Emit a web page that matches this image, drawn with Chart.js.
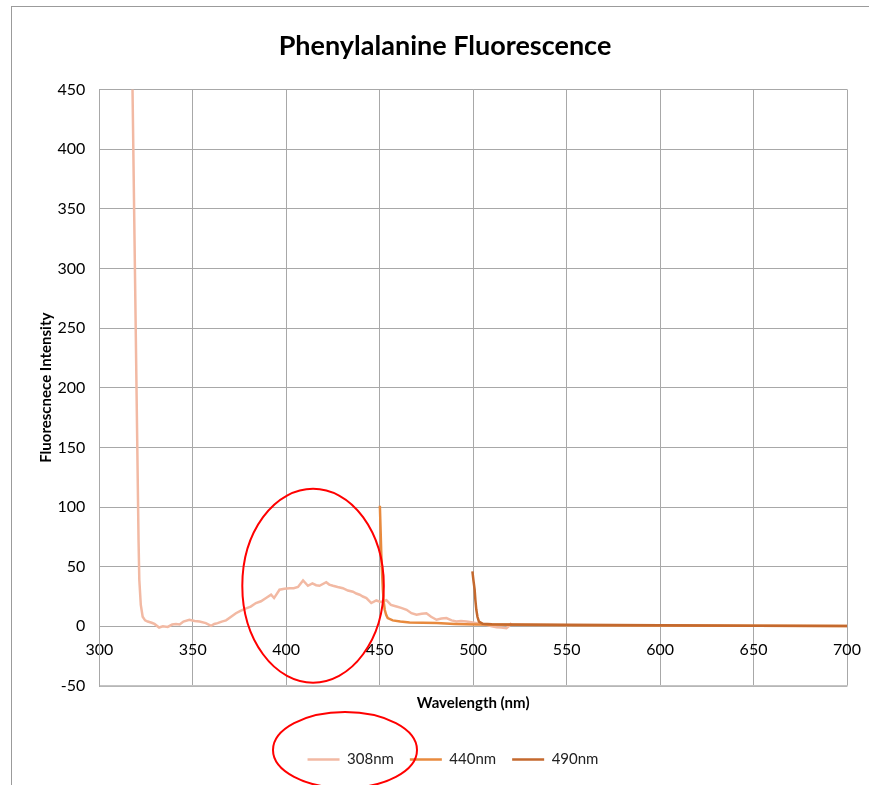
<!doctype html>
<html lang="en">
  <head>
    <meta charset="UTF-8" />
    <title>Phenylalanine Fluorescence</title>
    <script src="https://cdn.jsdelivr.net/npm/chart.js"></script>
    <style>
      body {
        margin: 0;
        background: #fff;
        overflow: hidden;
      }
      .wrap {
        position: relative;
        width: 869px;
        height: 785px;
      }
      .frame {
        position: absolute;
        left: 11px;
        top: 6px;
        width: 900px;
        height: 820px;
        border-left: 1.5px solid #9b9b9b;
        border-top: 1.5px solid #9b9b9b;
      }
      canvas {
        position: absolute;
        left: 0;
        top: 0;
      }
    </style>
  </head>
  <body>
    <div class="wrap">
      <div class="frame"></div>
      <canvas id="chart" width="869" height="785"></canvas>
    </div>

    <script>
      // emission spectra: [wavelength nm, intensity]
      const ex308 = [
        [317.6, 470], [321.0, 72], [321.4, 39], [322.2, 18], [323.2, 8],
        [324.5, 5], [325.9, 4], [328, 3], [329.5, 2], [332, -1], [334, 0],
        [336.6, -0.5], [339, 1.5], [341, 2], [343, 1.5], [345, 4], [348.2, 5.5],
        [351, 4.5], [353.6, 4], [357, 2.7], [359.8, 0.5], [361.5, 2], [363.3, 2.7],
        [365.5, 4], [367.8, 5], [370.5, 8], [373.1, 11], [375.5, 13], [378.5, 15],
        [381, 16.5], [383.8, 19.5], [386.5, 21], [389.2, 23.7], [391.9, 26.5],
        [393.5, 23.7], [396.4, 30.7], [399, 31.5], [401.8, 32], [404, 32],
        [406.3, 33], [409, 38.5], [411.6, 34], [414, 36], [416, 34.5], [417.8, 34],
        [421.4, 37], [423, 35], [425, 34], [427.5, 33], [430.3, 32], [433, 30],
        [435.7, 29], [437.5, 27.5], [439.3, 26.5], [441, 25], [442.9, 23.7],
        [445.5, 19.5], [448.2, 21.7], [450.5, 20.5], [453.6, 22], [456, 18],
        [459, 16.6], [461.5, 15.5], [464.4, 13.9], [467, 11], [469.7, 9.7],
        [472.5, 10.5], [475, 11], [477.5, 8], [480.4, 5.5], [483, 6.5],
        [485.7, 6.9], [488.5, 5], [491, 4], [493.5, 4.5], [496.4, 4], [499, 3.5],
        [501.8, 2.7], [504.5, 2], [507, 1.3], [510, 0], [512.5, -0.7], [515, -1],
        [517.8, -1.5], [519, 0], [520.5, 2.7],
      ];
      const ex440 = [
        [450.1, 101], [450.5, 80], [450.9, 58.7], [451.3, 44], [451.7, 30.7],
        [452.2, 20], [452.7, 13.9], [453.5, 9.5], [454.3, 6.9], [457, 5],
        [461, 4], [466, 3.2], [473, 3], [480.4, 2.7], [490, 2], [501.8, 1.5],
        [520, 1.3], [550, 1], [600, 0.8], [650, 0.5], [700, 0.2],
      ];
      const ex490 = [
        [499.6, 46], [500.2, 38], [500.8, 30.7], [501.2, 22], [501.7, 13.9],
        [502.3, 8], [503.1, 4], [505.2, 2.1], [510, 1.8], [520, 1.6],
        [550, 1.3], [600, 0.9], [650, 0.5], [700, 0.2],
      ];
      const seriesNames = ['308nm', '440nm', '490nm'];
      const seriesColors = ['#f2b9a3', '#e88a3e', '#c4692e'];
      const xTicks = { min: 300, max: 700, step: 50 };
      const yTicks = { min: -50, max: 450, step: 50 };

      // hand-drawn red circles on the original
      const circleData = { xMin: 376.5, xMax: 452.2, yMin: -47.2, yMax: 115.3 };
      const legendCircle = { cx: 345, cy: 750, rx: 72, ry: 38 };

      const font = 'Lato, "Open Sans", sans-serif';
      const gridColor = '#a8a8a8';

      const toPoints = (arr) => arr.map(([x, y]) => ({ x, y }));

      const redCircles = {
        id: 'redCircles',
        afterLayout(chart) {
          // title and legend in the original sit right of the canvas centre
          const lg = chart.legend;
          const shift = 453 - (lg.left + lg.right) / 2;
          lg.left += shift;
          lg.right += shift;
          const tb = chart.titleBlock;
          const tshift = 445 - (tb.left + tb.right) / 2;
          tb.left += tshift;
          tb.right += tshift;
        },
        afterDraw(chart) {
          const ctx = chart.ctx;
          const { x, y } = chart.scales;
          const x0 = x.getPixelForValue(circleData.xMin);
          const x1 = x.getPixelForValue(circleData.xMax);
          const y0 = y.getPixelForValue(circleData.yMax);
          const y1 = y.getPixelForValue(circleData.yMin);
          ctx.save();
          ctx.strokeStyle = '#ff0000';
          ctx.lineWidth = 2;
          ctx.beginPath();
          ctx.ellipse((x0 + x1) / 2, (y0 + y1) / 2, (x1 - x0) / 2, (y1 - y0) / 2, 0, 0, Math.PI * 2);
          ctx.stroke();
          const c = legendCircle;
          ctx.beginPath();
          ctx.ellipse(c.cx, c.cy, c.rx, c.ry, 0, 0, Math.PI * 2);
          ctx.stroke();
          ctx.restore();
        },
      };

      new Chart(document.getElementById('chart'), {
        type: 'line',
        data: {
          datasets: [ex308, ex440, ex490].map((d, i) => ({
            label: seriesNames[i],
            data: toPoints(d),
            borderColor: seriesColors[i],
            backgroundColor: seriesColors[i],
            borderWidth: 2.5,
            pointRadius: 0,
            tension: 0,
            order: 3 - i,
          })),
        },
        options: {
          responsive: false,
          animation: false,
          layout: { padding: { left: 12, right: 22, top: 0, bottom: 8 } },
          plugins: {
            title: {
              display: true,
              text: 'Phenylalanine Fluorescence',
              color: '#000',
              font: { family: font, size: 27, weight: 'bold' },
              padding: { top: 30, bottom: 27 },
            },
            legend: {
              position: 'bottom',
              labels: {
                color: '#222',
                font: { family: font, size: 15 },
                usePointStyle: true,
                pointStyle: 'line',
                pointStyleWidth: 32,
                padding: 16,
                sort: (a, b) => a.datasetIndex - b.datasetIndex,
              },
            },
            tooltip: { enabled: false },
          },
          scales: {
            x: {
              type: 'linear',
              position: 'bottom',
              min: xTicks.min,
              max: xTicks.max,
              ticks: { stepSize: xTicks.step, display: false },
              grid: { color: gridColor, drawTicks: false },
              border: { color: '#c4c4c4', width: 1.5 },
              title: {
                display: true,
                text: 'Wavelength (nm)',
                color: '#000',
                font: { family: font, size: 15, weight: 'bold' },
                padding: { top: 8, bottom: 24 },
              },
            },
            xLabels: {
              type: 'linear',
              position: { y: 0 },
              min: xTicks.min,
              max: xTicks.max,
              ticks: {
                stepSize: xTicks.step,
                color: '#000',
                padding: 14,
                font: { family: font, size: 16 },
              },
              grid: { display: false, drawTicks: false },
              border: { display: false },
              afterFit(scale) {
                scale.paddingLeft = 0;
                scale.paddingRight = 0;
              },
            },
            y: {
              min: yTicks.min,
              max: yTicks.max,
              ticks: {
                stepSize: yTicks.step,
                color: '#000',
                padding: 14,
                font: { family: font, size: 16 },
              },
              grid: { color: gridColor, drawTicks: false },
              border: { color: gridColor },
              title: {
                display: true,
                text: 'Fluorescnece Intensity',
                color: '#000',
                font: { family: font, size: 15, weight: 'bold' },
                padding: { top: 25, bottom: 0 },
              },
              afterFit(scale) {
                scale.width = 87.3;
              },
            },
          },
        },
        plugins: [redCircles],
      });
    </script>
  </body>
</html>
